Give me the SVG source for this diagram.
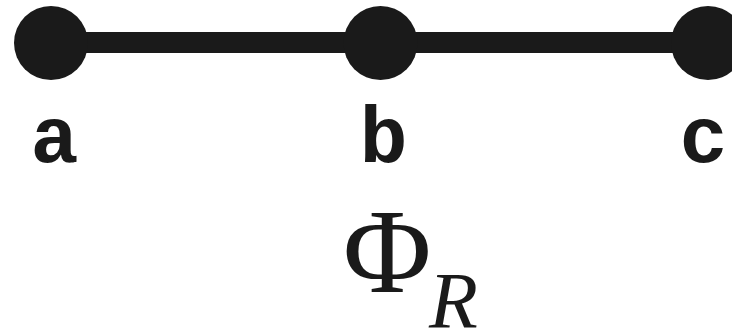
<svg xmlns="http://www.w3.org/2000/svg" width="732" height="336" viewBox="0 0 732 336">
<style>
.node{fill:#1a1a1a}
.edge{stroke:#1a1a1a;stroke-width:21;fill:none}
.lbl{font-family:"Liberation Mono","Courier New",monospace;font-weight:bold;font-size:80px;fill:#1a1a1a;text-anchor:middle}
.phi{font-family:"Liberation Serif","Times New Roman",serif;fill:#1a1a1a}
</style>
<rect width="732" height="336" fill="#ffffff"/>
<g id="connectors">
<line class="edge" x1="51" y1="42.5" x2="380.5" y2="42.5"/>
<line class="edge" x1="380.5" y1="42.5" x2="708" y2="42.5"/>
</g>
<g id="node-a">
<circle class="node" cx="51" cy="43" r="37"/>
<text class="lbl" x="54.5" y="162">a</text>
</g>
<g id="node-b">
<circle class="node" cx="380.5" cy="43" r="37"/>
<text class="lbl" x="383.5" y="162">b</text>
</g>
<g id="node-c">
<circle class="node" cx="708" cy="43" r="37"/>
<text class="lbl" x="703.5" y="162">c</text>
</g>
<g id="title">
<text class="phi" x="343" y="292" font-size="121">Φ</text>
<text class="phi" x="429" y="328" font-size="80" font-style="italic">R</text>
</g>
</svg>
